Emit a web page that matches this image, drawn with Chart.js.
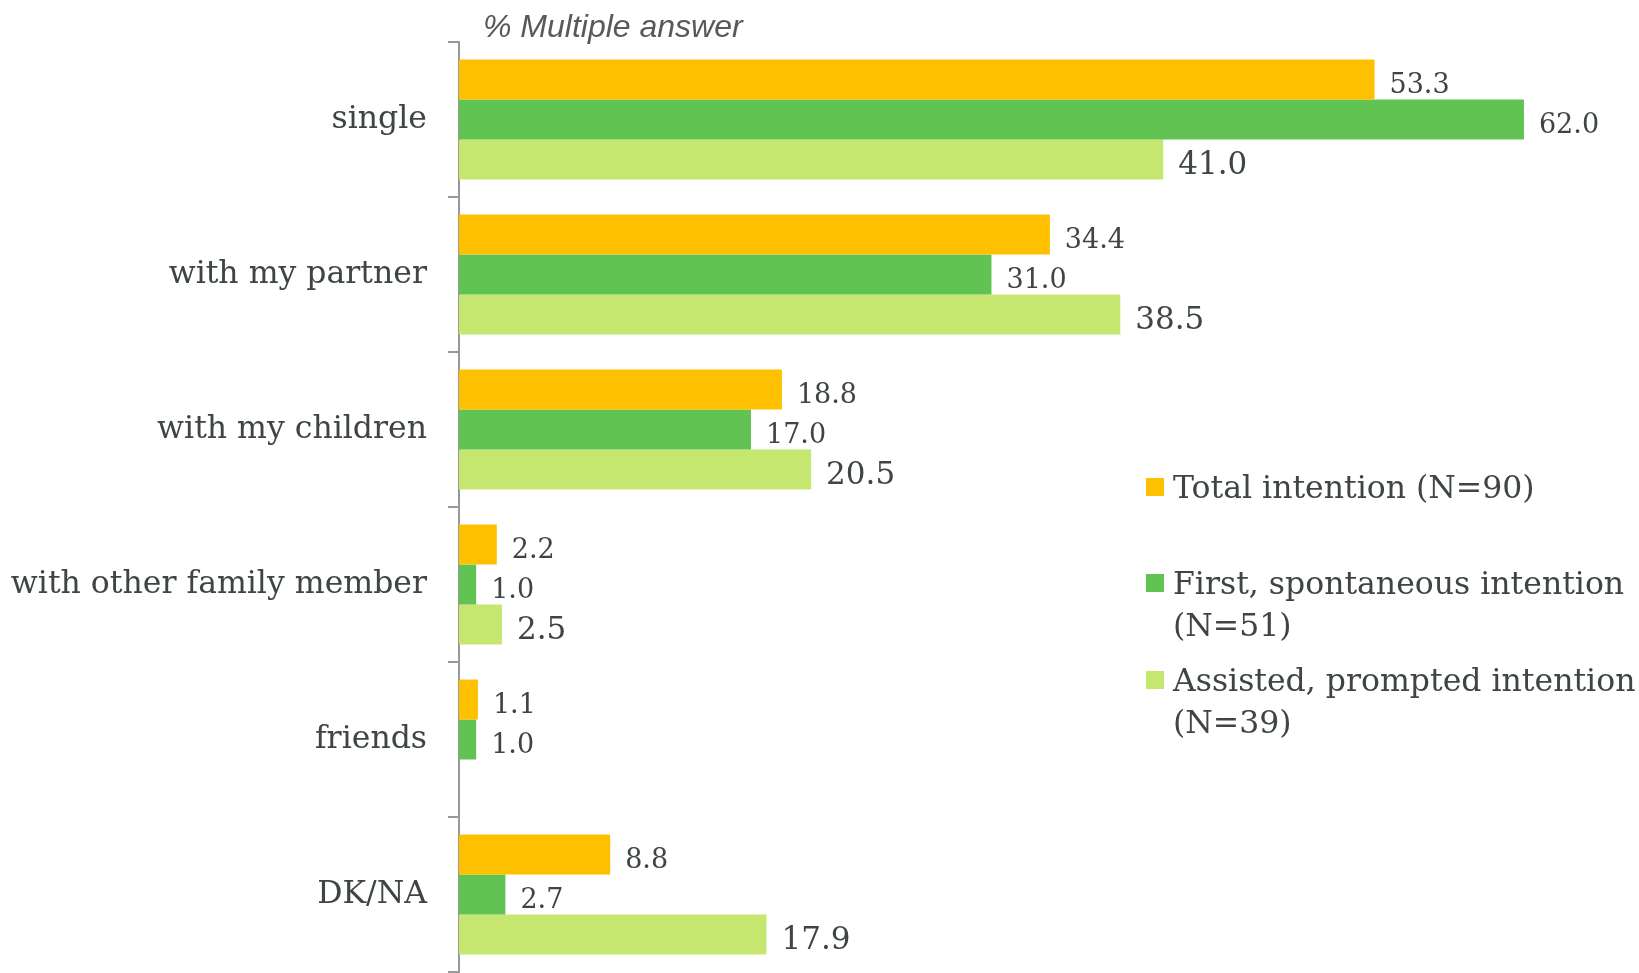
<!DOCTYPE html>
<html>
<head>
<meta charset="utf-8">
<script src="https://cdn.jsdelivr.net/npm/chart.js@4"></script>
<style>
  html, body { margin: 0; padding: 0; background: #fff; overflow: hidden; }
  #wrap { position: relative; width: 1639px; height: 973px; }
  #chart { display: block; }
  #legend { position: absolute; left: 1146px; top: 466px; font-family: "DejaVu Serif", serif; font-size: 31.5px; color: #3f4545; white-space: nowrap; }
  .item { position: relative; padding-left: 27px; line-height: 42px; }
  .item i { position: absolute; left: 0; top: 12px; width: 18px; height: 18px; }
</style>
</head>
<body>
<div id="wrap">
  <canvas id="chart" width="1639" height="973" style="width:1639px;height:973px"></canvas>
  <div id="legend"></div>
</div>
<script>
const categories = ['single', 'with my partner', 'with my children', 'with other family member', 'friends', 'DK/NA'];
const seriesNames = ['Total intention (N=90)', 'First, spontaneous intention (N=51)', 'Assisted, prompted intention (N=39)'];
const legendLines = [['Total intention (N=90)'], ['First, spontaneous intention', '(N=51)'], ['Assisted, prompted intention', '(N=39)']];
const totalIntention = [53.3, 34.4, 18.8, 2.2, 1.1, 8.8];
const firstIntention = [62.0, 31.0, 17.0, 1.0, 1.0, 2.7];
const assistedIntention = [41.0, 38.5, 20.5, 2.5, null, 17.9];
const colors = ['#FFC000', '#61C352', '#C5E770'];
const labelSizes = [27, 27, 31];
const textColor = '#3f4545';

// value labels at the end of each bar
const valueLabels = {
    id: 'valueLabels',
    afterDatasetsDraw(chart) {
        const ctx = chart.ctx;
        ctx.save();
        ctx.fillStyle = textColor;
        ctx.textAlign = 'left';
        ctx.textBaseline = 'middle';
        chart.data.datasets.forEach((ds, di) => {
            ctx.font = labelSizes[di] + 'px "DejaVu Serif"';
            chart.getDatasetMeta(di).data.forEach((bar, i) => {
                const v = ds.data[i];
                if (v === null) return;
                ctx.fillText(v.toFixed(1), bar.x + 15, bar.y + 6);
            });
        });
        ctx.restore();
    }
};

const subtitle = {
    id: 'subtitle',
    afterDraw(chart) {
        const ctx = chart.ctx;
        ctx.save();
        ctx.font = 'italic 32px "Liberation Sans"';
        ctx.fillStyle = '#595959';
        ctx.textBaseline = 'alphabetic';
        ctx.fillText('% Multiple answer', 483, 37);
        ctx.restore();
    }
};

const chart = new Chart(document.getElementById('chart').getContext('2d'), {
    type: 'bar',
    data: {
        labels: categories,
        datasets: [
            { label: seriesNames[0], data: totalIntention, backgroundColor: colors[0] },
            { label: seriesNames[1], data: firstIntention, backgroundColor: colors[1] },
            { label: seriesNames[2], data: assistedIntention, backgroundColor: colors[2] },
        ]
    },
    options: {
        indexAxis: 'y',
        responsive: false,
        animation: false,
        datasets: { bar: { barPercentage: 1, categoryPercentage: 0.774 } },
        layout: { padding: { top: 42, right: 12, bottom: 1, left: 0 } },
        plugins: { legend: { display: false }, tooltip: { enabled: false } },
        scales: {
            x: { display: false, min: 0, max: 68 },
            y: {
                afterFit: scale => {
                    scale.width = 459;
                    scale.paddingTop = 0;
                    scale.paddingBottom = 0;
                },
                border: { display: true, color: '#999', width: 2 },
                grid: { drawOnChartArea: false, offset: true, tickLength: 11, color: '#999', lineWidth: 2 },
                ticks: { padding: 21, color: textColor, font: { family: 'DejaVu Serif', size: 31.5 } }
            }
        }
    },
    plugins: [valueLabels, subtitle]
});

const legend = document.getElementById('legend');
const itemGaps = [54, 13, 0];
legendLines.forEach((lines, i) => {
    const item = document.createElement('div');
    item.className = 'item';
    item.style.marginBottom = itemGaps[i] + 'px';
    item.innerHTML = '<i style="background:' + colors[i] + '"></i>' + lines.join('<br>');
    legend.appendChild(item);
});
</script>
</body>
</html>
